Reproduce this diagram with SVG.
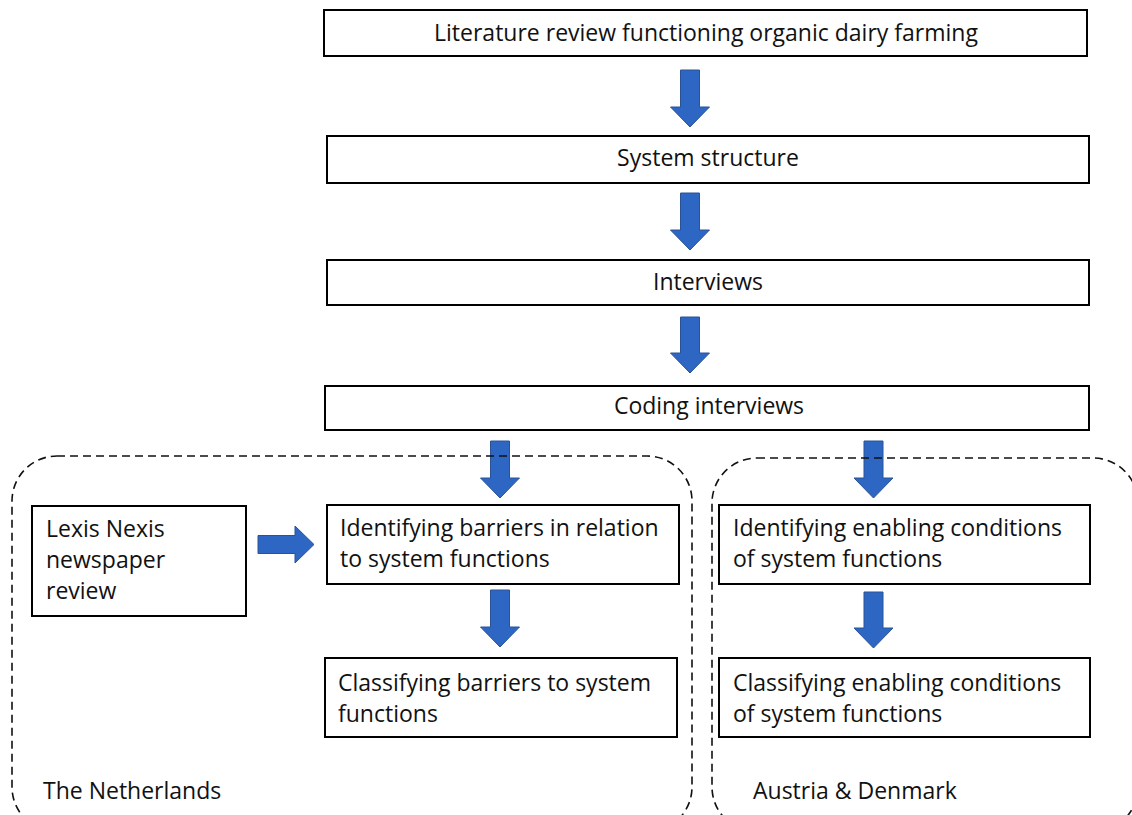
<svg xmlns="http://www.w3.org/2000/svg" width="1132" height="815" viewBox="0 0 1132 815">
<style>
.box{fill:#fff;stroke:#000;stroke-width:2}
.t{font-family:"Open Sans","Liberation Sans",sans-serif;font-size:23px;fill:#111}
.c{text-anchor:middle}
.arr{fill:#2E66C4;stroke:#2A5294;stroke-width:1}
.grp{fill:none;stroke:#111;stroke-width:1.6;stroke-dasharray:8 5}
</style>
<rect width="1132" height="815" fill="#fff"/>
<g id="n1"><rect class="box" x="324" y="10" width="763" height="46"/><text class="t c" x="706" y="41">Literature review functioning organic dairy farming</text></g>
<g id="n2"><rect class="box" x="327" y="136" width="762" height="47"/><text class="t c" x="708" y="166">System structure</text></g>
<g id="n3"><rect class="box" x="327" y="260" width="762" height="45"/><text class="t c" x="708" y="290">Interviews</text></g>
<g id="n4"><rect class="box" x="325" y="386" width="764" height="44"/><text class="t c" x="709" y="414">Coding interviews</text></g>
<g id="n5"><rect class="box" x="32" y="506" width="214" height="110"/><text class="t" x="46" y="537">Lexis Nexis</text><text class="t" x="46" y="568">newspaper</text><text class="t" x="46" y="599">review</text></g>
<g id="n6"><rect class="box" x="327" y="505" width="352" height="79"/><text class="t" x="340" y="536">Identifying barriers in relation</text><text class="t" x="340" y="567">to system functions</text></g>
<g id="n7"><rect class="box" x="719" y="505" width="371" height="79"/><text class="t" x="733" y="536">Identifying enabling conditions</text><text class="t" x="733" y="567">of system functions</text></g>
<g id="n8"><rect class="box" x="325" y="658" width="352" height="79"/><text class="t" x="338" y="691">Classifying barriers to system</text><text class="t" x="338" y="722">functions</text></g>
<g id="n9"><rect class="box" x="719" y="658" width="371" height="79"/><text class="t" x="733" y="691">Classifying enabling conditions</text><text class="t" x="733" y="722">of system functions</text></g>
<g id="connectors">
<polygon class="arr" points="680.5,70 699.5,70 699.5,107 709.5,107 690,127 670.5,107 680.5,107"/>
<polygon class="arr" points="680.5,193 699.5,193 699.5,230 709.5,230 690,250 670.5,230 680.5,230"/>
<polygon class="arr" points="680.5,317 699.5,317 699.5,353 709.5,353 690,373 670.5,353 680.5,353"/>
<polygon class="arr" points="490.5,441 509.5,441 509.5,478 519.5,478 500,498 480.5,478 490.5,478"/>
<polygon class="arr" points="864,441 883,441 883,478 893,478 873.5,498 854,478 864,478"/>
<polygon class="arr" points="490.5,590 509.5,590 509.5,627 519.5,627 500,647 480.5,627 490.5,627"/>
<polygon class="arr" points="864,592 883,592 883,628 893,628 873.5,648 854,628 864,628"/>
<polygon class="arr" points="258,535.5 295,535.5 295,526 314,544.5 295,563 295,553.5 258,553.5"/>
</g>
<g id="nl"><rect class="grp" x="12" y="456" width="680" height="376" rx="45" ry="45"/><text class="t" x="43" y="799">The Netherlands</text></g>
<g id="ad"><rect class="grp" x="712" y="458" width="426" height="374" rx="45" ry="45"/><text class="t" x="753" y="799">Austria &amp; Denmark</text></g>
</svg>
